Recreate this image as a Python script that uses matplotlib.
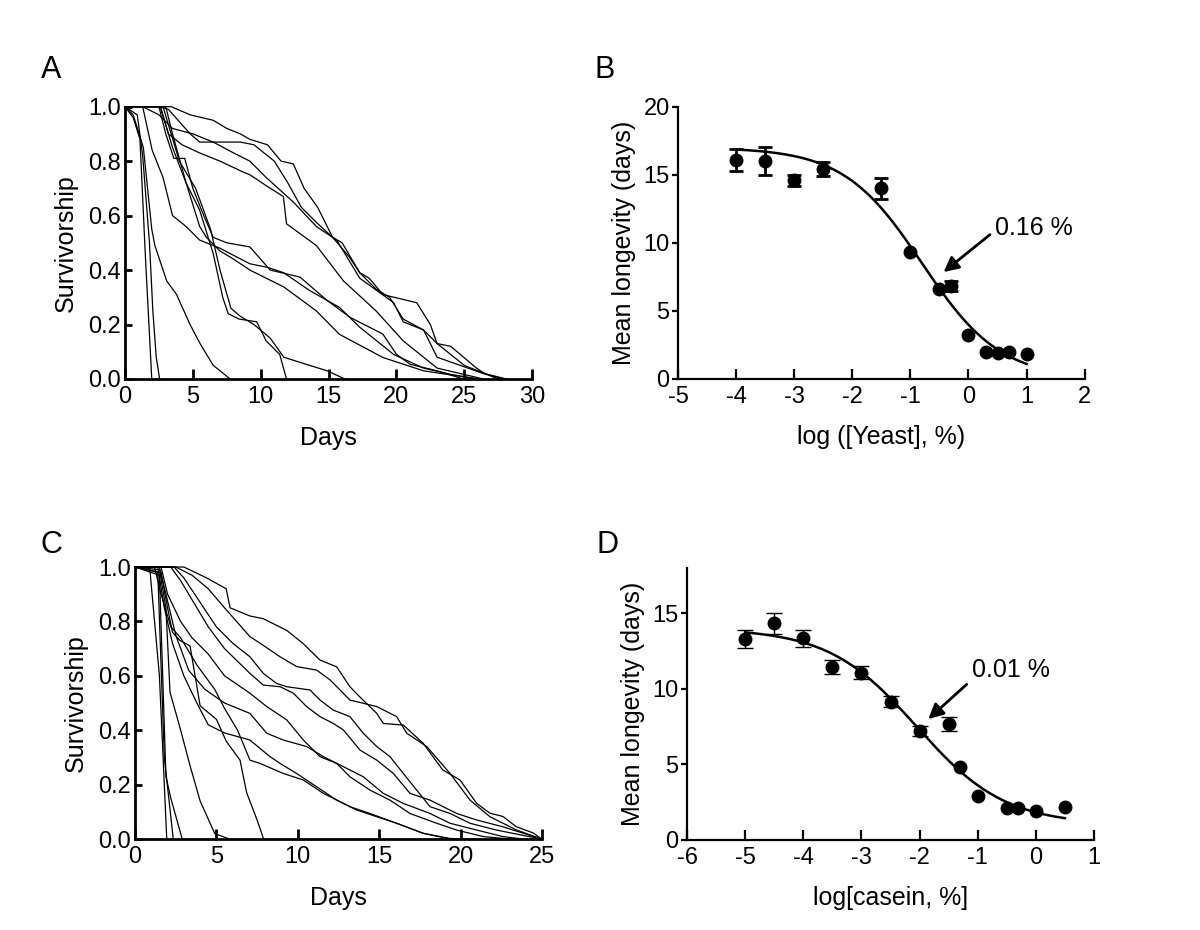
import numpy as np
import matplotlib.pyplot as plt

plt.rcParams['font.family'] = ['Liberation Sans', 'DejaVu Sans']
plt.rcParams['axes.unicode_minus'] = False

# ---- Panel A: survivorship on yeast diets (day, fraction alive) ----
yeast_c1 = [(0, 1), (0.6, 0.96), (1.1, 0.88), (1.5, 0.45), (1.97, 0)]
yeast_c2 = [(0, 1), (0.9, 0.97), (1.3, 0.82), (1.8, 0.5), (2.05, 0.25), (2.3, 0.08), (2.55, 0)]
yeast_c3 = [(0, 1), (0.6, 0.97), (1.35, 0.85), (1.97, 0.55), (2.2, 0.49), (3.07, 0.36), (3.8, 0.31),
            (4.79, 0.2), (5.53, 0.13), (6.5, 0.05), (7.75, 0)]
yeast_c4 = [(0, 1), (2.6, 1.0), (3.5, 0.85), (4.5, 0.72), (5.5, 0.62), (6.5, 0.46), (7.2, 0.3),
            (7.6, 0.24), (8.4, 0.22), (9.7, 0.21), (10.4, 0.14), (11.4, 0.09), (11.9, 0)]
yeast_c5 = [(0, 1), (2.8, 1.0), (4.0, 0.8), (5.2, 0.7), (6.3, 0.55), (7.0, 0.4), (7.8, 0.26),
            (8.5, 0.23), (9.5, 0.2), (10.7, 0.15), (11.7, 0.08), (13.6, 0.05), (14.9, 0.03), (16.2, 0)]
yeast_c6 = [(0, 1), (3.4, 1.0), (4.8, 0.97), (6.5, 0.95), (7.5, 0.92), (8.5, 0.9), (9.2, 0.88),
            (10.5, 0.86), (11.5, 0.8), (12.4, 0.79), (13.2, 0.7), (14.2, 0.63), (15.3, 0.52),
            (16, 0.5), (17.3, 0.39), (18, 0.37), (19, 0.31), (21.5, 0.28), (22.5, 0.2), (23, 0.13),
            (24, 0.12), (25.9, 0.04), (26.5, 0.02), (28.1, 0)]
yeast_c7 = [(0, 1), (2.5, 1.0), (3.2, 0.99), (4.8, 0.9), (5.5, 0.87), (8.5, 0.87), (9.5, 0.86),
            (11, 0.8), (12, 0.72), (13, 0.63), (14, 0.58), (15.3, 0.52), (16.5, 0.45), (17.3, 0.39),
            (18.5, 0.33), (19.5, 0.3), (20.5, 0.22), (22, 0.18), (23, 0.13), (24, 0.09), (25, 0.05),
            (26, 0.03), (27.5, 0)]
yeast_c8 = [(0, 1), (1.3, 1.0), (2.5, 0.97), (3.5, 0.92), (5.0, 0.9), (6.5, 0.87), (8.0, 0.83),
            (9.2, 0.8), (10.4, 0.74), (12.4, 0.65), (14.1, 0.56), (15.6, 0.51), (17.3, 0.37),
            (19.8, 0.28), (20.5, 0.21), (22.0, 0.18), (23.0, 0.08), (26.4, 0.02), (27.9, 0)]
yeast_c9 = [(0, 1), (2.6, 1.0), (3.2, 0.9), (4.2, 0.86), (5.5, 0.83), (7.0, 0.8), (8.7, 0.76),
            (9.2, 0.75), (10.4, 0.71), (11.67, 0.67), (11.9, 0.57), (14.1, 0.49), (16.1, 0.36),
            (18.5, 0.25), (20.5, 0.14), (23.0, 0.04), (26.4, 0)]
yeast_c10 = [(0, 1), (2.5, 1.0), (3.0, 0.9), (3.6, 0.81), (4.4, 0.81), (5.0, 0.7), (5.8, 0.6),
             (6.5, 0.52), (7.5, 0.5), (9.2, 0.485), (10.7, 0.4), (12.9, 0.374), (14.9, 0.288),
             (16.6, 0.226), (19.0, 0.165), (20.0, 0.091), (21.0, 0.054), (23.0, 0.03), (24.9, 0)]
yeast_c11 = [(0, 1), (1.3, 1), (2.0, 0.84), (2.8, 0.74), (3.5, 0.6), (4.5, 0.56), (5.5, 0.51),
             (7.0, 0.48), (9.2, 0.423), (10.5, 0.41), (11.7, 0.39), (13.6, 0.325), (15.8, 0.263),
             (17.3, 0.19), (19.8, 0.09), (22, 0.04), (24, 0.017), (26, 0)]
yeast_c12 = [(0, 1), (3.0, 1.0), (3.5, 0.9), (4.5, 0.72), (5.5, 0.56), (6.0, 0.52), (7, 0.47),
             (8, 0.44), (9.2, 0.40), (11.7, 0.338), (14.1, 0.25), (15.8, 0.164), (19.0, 0.079),
             (22, 0.03), (26, 0)]
yeast_curves = [yeast_c1, yeast_c2, yeast_c3, yeast_c4, yeast_c5, yeast_c6,
                yeast_c7, yeast_c8, yeast_c9, yeast_c10, yeast_c11, yeast_c12]

# ---- Panel C: survivorship on casein diets ----
casein_c1 = [(0, 1), (0.9, 1), (1.5, 0.6), (1.95, 0)]
casein_c2 = [(0, 1), (1.4, 0.98), (1.8, 0.3), (2.35, 0)]
casein_c3 = [(0, 1), (1.5, 0.97), (1.9, 0.23), (2.2, 0.15), (2.9, 0)]
casein_c4 = [(0, 1), (1.5, 0.99), (1.9, 0.85), (2.15, 0.54), (2.76, 0.41), (3.38, 0.27), (4.0, 0.14),
             (4.6, 0.06), (4.9, 0.02), (5.8, 0)]
casein_c5 = [(0, 1), (1.6, 0.98), (2.0, 0.85), (2.3, 0.76), (2.76, 0.73), (3.38, 0.71), (4.0, 0.49),
             (5.0, 0.44), (5.6, 0.36), (6.45, 0.29), (6.86, 0.17), (7.5, 0.07), (7.9, 0)]
casein_c6 = [(0, 1), (3.0, 1.0), (4.4, 0.96), (5.6, 0.92), (5.84, 0.85), (7.06, 0.82), (7.88, 0.81),
             (9.32, 0.767), (10.34, 0.718), (11.36, 0.658), (12.39, 0.633), (13.2, 0.56), (13.8, 0.523),
             (14.85, 0.462), (15.25, 0.425), (16.48, 0.419), (17.7, 0.352), (18.9, 0.254),
             (19.96, 0.217), (20.99, 0.131), (21.8, 0.095), (22.6, 0.083), (23.4, 0.046),
             (24.47, 0.022), (24.98, 0)]
casein_c7 = [(0, 1), (2.5, 1.0), (3.5, 0.97), (4.5, 0.92), (5.5, 0.85), (7.06, 0.744), (7.68, 0.72),
             (8.91, 0.67), (9.93, 0.634), (11.16, 0.621), (11.98, 0.585), (12.59, 0.548), (13.2, 0.511),
             (14.85, 0.487), (16.07, 0.45), (16.69, 0.389), (17.92, 0.34), (19.35, 0.241),
             (20.58, 0.143), (21.8, 0.082), (23.44, 0.033), (24.98, 0)]
casein_c8 = [(0, 1), (2.4, 1.0), (3.0, 0.96), (4.0, 0.87), (5.0, 0.78), (6.0, 0.72), (7.06, 0.67),
             (7.88, 0.609), (8.7, 0.572), (9.32, 0.56), (10.75, 0.548), (11.36, 0.511), (12.18, 0.474),
             (13.2, 0.45), (14.02, 0.389), (14.85, 0.34), (15.66, 0.303), (16.48, 0.241), (17.3, 0.18),
             (18.12, 0.119), (19.35, 0.094), (20.58, 0.058), (22.2, 0.033), (24.98, 0)]
casein_c9 = [(0, 1), (2.2, 1.0), (2.8, 0.95), (3.5, 0.88), (4.5, 0.78), (5.5, 0.7), (7.06, 0.609),
             (7.88, 0.566), (8.91, 0.56), (9.73, 0.536), (10.54, 0.487), (11.36, 0.45), (12.18, 0.425),
             (12.8, 0.401), (13.82, 0.327), (14.85, 0.29), (15.87, 0.241), (16.89, 0.168),
             (18.12, 0.143), (19.76, 0.094), (20.99, 0.07), (22.6, 0.045), (24.98, 0)]
casein_c10 = [(0, 1), (1.6, 1.0), (2.0, 0.9), (2.8, 0.8), (3.5, 0.74), (4.5, 0.68), (5.5, 0.6),
              (7.06, 0.536), (8.09, 0.487), (9.32, 0.438), (10.34, 0.364), (11.36, 0.303),
              (12.39, 0.278), (13.2, 0.229), (14.43, 0.18), (15.66, 0.143), (16.89, 0.094),
              (18.53, 0.058), (19.76, 0.033), (21.4, 0.009), (23.03, 0)]
casein_c11 = [(0, 1), (1.5, 1.0), (1.9, 0.9), (2.5, 0.75), (3.3, 0.62), (4.3, 0.55), (5.5, 0.5),
              (7.06, 0.462), (8.09, 0.389), (9.11, 0.364), (10.54, 0.34), (11.57, 0.303), (12.8, 0.266),
              (14.02, 0.229), (15.25, 0.168), (16.48, 0.131), (18.12, 0.094), (19.35, 0.058),
              (20.99, 0.033), (22.6, 0.009), (23.85, 0)]
casein_c12 = [(0, 1), (1.4, 1.0), (1.8, 0.85), (2.3, 0.72), (3.0, 0.6), (3.8, 0.5), (4.5, 0.42),
              (5.5, 0.39), (7.06, 0.364), (8.29, 0.303), (8.91, 0.278), (9.93, 0.241), (11.16, 0.192),
              (12.39, 0.143), (13.61, 0.107), (14.85, 0.082), (16.07, 0.058), (17.71, 0.021), (19.35, 0)]
casein_c13 = [(0, 1), (1.2, 1.0), (1.6, 0.9), (2.2, 0.78), (2.8, 0.74), (3.8, 0.64), (4.9, 0.55),
              (5.5, 0.48), (6.3, 0.4), (7.06, 0.29), (7.68, 0.278), (9.11, 0.241), (10.34, 0.217),
              (11.57, 0.168), (13.2, 0.119), (14.43, 0.094), (16.07, 0.058), (17.71, 0.021),
              (19.35, 0.002), (20.99, 0)]
casein_curves = [casein_c1, casein_c2, casein_c3, casein_c4, casein_c5, casein_c6, casein_c7,
                 casein_c8, casein_c9, casein_c10, casein_c11, casein_c12, casein_c13]

# ---- Panel B: mean longevity vs log yeast concentration ----
yeast_logc = [-4, -3.5, -3, -2.5, -1.5, -1, -0.5, -0.3, 0, 0.3, 0.5, 0.7, 1.0]
yeast_mean = [16.1, 16.0, 14.6, 15.4, 14.0, 9.35, 6.6, 6.8, 3.2, 1.96, 1.9, 1.96, 1.83]
yeast_sem = [0.8, 1.05, 0.4, 0.5, 0.75, 0.0, 0.0, 0.37, 0.0, 0.0, 0.0, 0.0, 0.0]
# dose-response fit (top, bottom, log EC50, Hill slope)
yeast_fit = (17.0, 0.0, -0.8, 0.643)

# ---- Panel D: mean longevity vs log casein concentration ----
casein_logc = [-5, -4.5, -4, -3.5, -3, -2.5, -2, -1.5, -1.3, -1, -0.5, -0.3, 0, 0.5]
casein_mean = [13.3, 14.33, 13.35, 11.43, 11.07, 9.15, 7.2, 7.66, 4.85, 2.93, 2.13, 2.13, 1.94, 2.2]
casein_sem = [0.6, 0.7, 0.55, 0.45, 0.43, 0.35, 0.35, 0.45, 0.0, 0.0, 0.0, 0.0, 0.0, 0.0]
casein_fit = (14.0, 1.0, -2.05, 0.57)


def hill(x, top, bottom, logec50, slope):
    return bottom + (top - bottom) / (1 + 10 ** ((x - logec50) * slope))


fig = plt.figure(figsize=(12, 9.3), dpi=100)

TICK_FS = 17
LABEL_FS = 18


def style_axes(ax, lw):
    ax.spines['top'].set_visible(False)
    ax.spines['right'].set_visible(False)
    ax.spines['left'].set_linewidth(lw)
    ax.spines['bottom'].set_linewidth(lw)
    ax.tick_params(axis='x', direction='in', length=7, width=lw, pad=5, labelsize=TICK_FS)
    ax.tick_params(axis='y', direction='out', length=4, width=lw, pad=2, labelsize=TICK_FS)


def survival_panel(rect, curves, xmax, xticks):
    ax = fig.add_axes(rect)
    for pts in curves:
        days = [p[0] for p in pts]
        surv = [p[1] for p in pts]
        ax.plot(days, surv, color='black', lw=0.9, clip_on=False)
    ax.set_xlim(0, xmax)
    ax.set_ylim(0, 1.0)
    ax.set_xticks(xticks)
    ax.set_yticks([0, 0.2, 0.4, 0.6, 0.8, 1.0])
    ax.set_yticklabels(['0.0', '0.2', '0.4', '0.6', '0.8', '1.0'])
    style_axes(ax, 2.0)
    ax.tick_params(axis='y', direction='in', length=5, pad=3)
    ax.set_xlabel('Days', fontsize=LABEL_FS, labelpad=13)
    ax.set_ylabel('Survivorship', fontsize=LABEL_FS, labelpad=7)
    return ax


def dose_panel(rect, x, y, err, fit, xlim, ylim, yticks, xlabel, capw, elw, note, note_xy, tail, tip):
    ax = fig.add_axes(rect)
    xs = np.linspace(x[0], x[-1], 200)
    ax.plot(xs, hill(xs, *fit), color='black', lw=1.8)
    for xi, yi, ei in zip(x, y, err):
        if ei > 0:
            ax.errorbar(xi, yi, yerr=ei, fmt='none', ecolor='black', elinewidth=elw,
                        capsize=capw, capthick=elw)
    ax.plot(x, y, 'o', color='black', ms=9)
    ax.set_xlim(*xlim)
    ax.set_ylim(*ylim)
    ax.set_xticks(range(xlim[0], xlim[1] + 1))
    ax.set_yticks(yticks)
    style_axes(ax, 1.6)
    ax.set_xlabel(xlabel, fontsize=LABEL_FS, labelpad=12)
    ax.set_ylabel('Mean longevity (days)', fontsize=LABEL_FS, labelpad=5)
    ax.text(note_xy[0], note_xy[1], note, fontsize=LABEL_FS, va='center', ha='left')
    ax.annotate('', xy=tip, xytext=tail,
                arrowprops=dict(arrowstyle='-|>,head_length=0.9,head_width=0.45',
                                color='black', lw=2.0, shrinkA=0, shrinkB=0))
    return ax


survival_panel([0.1042, 0.5925, 0.3392, 0.2928], yeast_curves, 30, [0, 5, 10, 15, 20, 25, 30])
dose_panel([0.565, 0.5925, 0.3389, 0.2928], yeast_logc, yeast_mean, yeast_sem, yeast_fit,
           (-5, 2), (0, 20), [0, 5, 10, 15, 20], 'log ([Yeast], %)', 5, 2.0,
           '0.16 %', (0.46, 11.1), (0.37, 10.6), (-0.43, 7.85))
survival_panel([0.1125, 0.0978, 0.3392, 0.2925], casein_curves, 25, [0, 5, 10, 15, 20, 25])
dose_panel([0.5725, 0.0968, 0.3392, 0.2925], casein_logc, casein_mean, casein_sem, casein_fit,
           (-6, 1), (0, 18), [0, 5, 10, 15], 'log[casein, %]', 6, 1.0,
           '0.01 %', (-1.1, 11.25), (-1.19, 10.3), (-1.85, 8.0))

for letter, fx, fy in [('A', 0.043, 0.925), ('B', 0.504, 0.925),
                       ('C', 0.043, 0.414), ('D', 0.506, 0.414)]:
    fig.text(fx, fy, letter, fontsize=22, ha='center', va='center')

fig.savefig('out.png', dpi=100)
